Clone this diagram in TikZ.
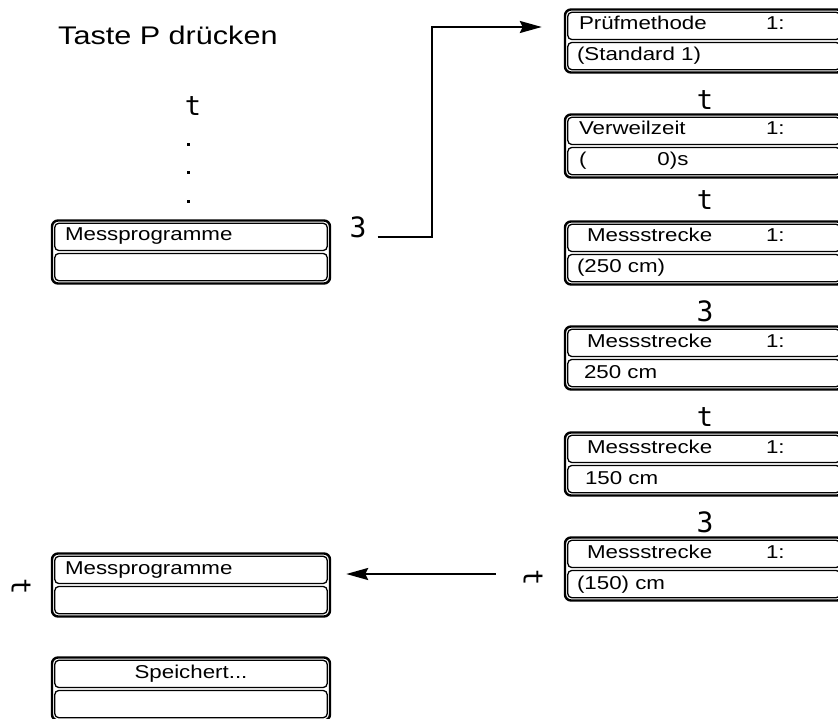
\documentclass[tikz,border=0pt]{standalone}
\usepackage{fontspec}
\setmainfont{Liberation Sans}[FakeStretch=1.2]
\newfontfamily\keyfont{DejaVu Sans Mono}
\usetikzlibrary{arrows.meta}

\begin{document}
\begin{tikzpicture}[x=1pt,y=1pt,
	lcd/.style={draw,line width=2.4pt,rounded corners=6pt,minimum width=278pt,minimum height=63pt,inner sep=0pt},
	lcdrow/.style={line width=1.3pt,rounded corners=4pt},
	txt/.style={anchor=base west,inner sep=0pt,font=\fontsize{18.6}{20}\selectfont},
	key/.style={inner sep=1pt,font=\keyfont\fontsize{27}{29}\selectfont},
	keynum/.style={key,font=\keyfont\fontsize{28}{30}\selectfont},
	arr/.style={line width=2.4pt,-{Stealth[length=22pt,width=12pt,inset=3pt]}}]
			\useasboundingbox (0,0) rectangle (838,-719);
			\clip (0,0) rectangle (838,-719);
			% left column
			\node [anchor=base west,inner sep=0pt,font=\fontsize{25.5}{28}\selectfont] (title) at (58,-45) {Taste P drücken};
			\node [key] (kt) at (193,-106) {t};
			\foreach \y in {145,173,202} \fill (186.5,-\y+1.5) rectangle ++(3,-3);
			\node [lcd] (l1) at (191,-252) {};
			\node [lcd] (l2) at (191,-585) {};
			\node [lcd] (l3) at (191,-689) {};
			\node [keynum] (k3) at (358,-227) {3};
			\node [key,rotate=-90] (kl) at (21,-587) {t};
			% right column
			\node [lcd] (r1) at (704,-41) {};
			\node [lcd] (r2) at (704,-146) {};
			\node [lcd] (r3) at (704,-253) {};
			\node [lcd] (r4) at (704,-358) {};
			\node [lcd] (r5) at (704,-464) {};
			\node [lcd] (r6) at (704,-569) {};
			\node [key] (kr2) at (705,-100) {t};
			\node [key] (kr3) at (705,-200) {t};
			\node [keynum] (kr4) at (705,-311) {3};
			\node [key] (kr5) at (705,-417) {t};
			\node [keynum] (kr6) at (705,-522) {3};
			\node [key,rotate=-90] (kr) at (533,-578) {t};
			% the two rows of every display
			\foreach \b in {l1,l2,l3,r1,r2,r3,r4,r5,r6} {
				\draw [lcdrow] ([shift={(4,-4)}]\b.north west) rectangle ([shift={(-4,1.5)}]\b.east);
				\draw [lcdrow] ([shift={(4,-1.5)}]\b.west) rectangle ([shift={(-4,4)}]\b.south east);
			}
			% display texts
			\node [txt] (l1a) at ([shift={(14,11)}]l1.west) {Messprogramme};
			\node [txt] (l2a) at ([shift={(14,11)}]l2.west) {Messprogramme};
			\node [txt,anchor=base] (l3a) at ([yshift=11]l3.center) {Speichert...};
			\node [txt] (r1a) at ([shift={(15,11)}]r1.west) {Prüfmethode};
			\node [txt] (r1b) at ([shift={(13,-20)}]r1.west) {(Standard 1)};
			\node [txt] (r2a) at ([shift={(15,11)}]r2.west) {Verweilzeit};
			\node [txt] (r2b) at ([shift={(15,-20)}]r2.west) {(\hspace{71pt}0)s};
			\node [txt] (r3a) at ([shift={(23,11)}]r3.west) {Messstrecke};
			\node [txt] (r3b) at ([shift={(13,-20)}]r3.west) {(250 cm)};
			\node [txt] (r4a) at ([shift={(23,11)}]r4.west) {Messstrecke};
			\node [txt] (r4b) at ([shift={(20,-20)}]r4.west) {250 cm};
			\node [txt] (r5a) at ([shift={(23,11)}]r5.west) {Messstrecke};
			\node [txt] (r5b) at ([shift={(21,-20)}]r5.west) {150 cm};
			\node [txt] (r6a) at ([shift={(23,11)}]r6.west) {Messstrecke};
			\node [txt] (r6b) at ([shift={(13,-20)}]r6.west) {(150) cm};
			\foreach \b in {r1,r2,r3,r4,r5,r6} \node [txt] (\b c) at ([shift={(202,11)}]\b.west) {1:};
			% connectors
			\coordinate (turn) at (432,-27);
			\draw [arr] ([xshift=10]k3.base east) -| (turn) -- ([xshift=-22]r1.west |- turn);
			\draw [arr] ([shift={(-68,-5)}]r6.west) -- ([shift={(15,11)}]l2.east);
\end{tikzpicture}
\end{document}
